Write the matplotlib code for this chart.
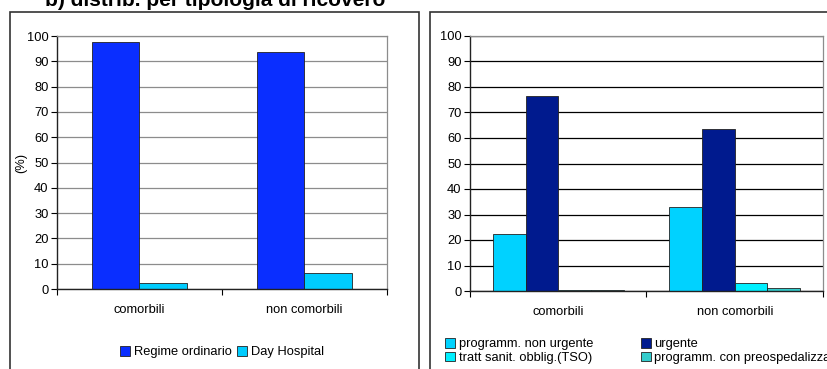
import matplotlib.pyplot as plt
import numpy as np
from matplotlib.patches import Rectangle

plt.rcParams['font.family'] = ['Liberation Sans', 'DejaVu Sans']

# data
categories = ["comorbili", "non comorbili"]

left_series = ["Regime ordinario", "Day Hospital"]
left_values = [[97.5, 93.5], [2.5, 6.5]]
left_colors = ["#0A2EFF", "#00CCFF"]

right_series = ["programm. non urgente", "urgente",
                "tratt sanit. obblig.(TSO)", "programm. con preospedalizzazione"]
right_values = [[22.5, 33.0], [76.5, 63.5], [0.4, 3.0], [0.4, 1.0]]
right_colors = ["#00D2FF", "#001A8E", "#00F0FF", "#33CCCC"]

yticks = list(range(0, 101, 10))

W, H = 828, 369
FS = 9.3
fig = plt.figure(figsize=(W / 100, H / 100), dpi=100)


def px_axes(x0, y0, x1, y1):
    return fig.add_axes([x0 / W, 1 - y1 / H, (x1 - x0) / W, (y1 - y0) / H])


# panel frames
fig.patches.append(Rectangle((10 / W, -0.1), (419 - 10) / W, 1.1 - 12 / H,
                             transform=fig.transFigure, fill=False,
                             edgecolor="#333333", linewidth=1.2))
fig.patches.append(Rectangle((430 / W, -0.1), 1.0, 1.1 - 12 / H,
                             transform=fig.transFigure, fill=False,
                             edgecolor="#333333", linewidth=1.2))

# title, cut at the top like the original
fig.text(45 / W, 1 - 6 / H, "b) distrib. per tipologia di ricovero",
         fontsize=15, fontweight="bold", va="baseline", ha="left")


def style_axes(ax, gridcolor, framecolor):
    ax.set_ylim(0, 100)
    ax.set_xlim(0, 2)
    ax.set_yticks(yticks)
    ax.set_xticks([0, 1, 2])
    ax.set_xticklabels([])
    ax.set_xticks([0.5, 1.5], minor=True)
    ax.set_xticklabels(categories, minor=True)
    ax.tick_params(axis="x", which="minor", length=0, pad=11, labelsize=FS)
    ax.tick_params(axis="x", which="major", length=4, direction="out")
    ax.tick_params(axis="y", length=4, direction="out", labelsize=FS, pad=2)
    ax.yaxis.grid(True, color=gridcolor, linewidth=0.9)
    ax.set_axisbelow(True)
    for s in ["top", "right"]:
        ax.spines[s].set_color(framecolor)
        ax.spines[s].set_linewidth(0.9)
    for s in ["left", "bottom"]:
        ax.spines[s].set_color("#222222")
        ax.spines[s].set_linewidth(1.0)


# left chart
ax1 = px_axes(57, 36, 387, 289)
style_axes(ax1, "#8c8c8c", "#8c8c8c")
w1 = 0.285
x = np.arange(len(categories)) + 0.5
for i, (name, vals, col) in enumerate(zip(left_series, left_values, left_colors)):
    ax1.bar(x + (i - 0.5) * w1, vals, width=w1, color=col,
            edgecolor="#222222", linewidth=0.6, label=name)
ax1.set_ylabel("(%)", fontsize=FS, labelpad=0)
ax1.legend(loc="center", bbox_to_anchor=(0.5, -0.25), ncol=2, frameon=False,
           fontsize=FS, handlelength=0.75, handleheight=0.75, handletextpad=0.3,
           columnspacing=0.4, borderaxespad=0)

# right chart
ax2 = px_axes(470, 36, 823, 291)
style_axes(ax2, "#000000", "#8c8c8c")
w2 = 0.185
for i, (name, vals, col) in enumerate(zip(right_series, right_values, right_colors)):
    ax2.bar(x + (i - 1.5) * w2, vals, width=w2, color=col,
            edgecolor="#222222", linewidth=0.6, label=name)
# row-wise legend order
h, l = ax2.get_legend_handles_labels()
order = [0, 2, 1, 3]
ax2.legend([h[k] for k in order], [l[k] for k in order],
           loc="upper left", bbox_to_anchor=(-0.085, -0.165), ncol=2, frameon=False,
           fontsize=FS, handlelength=0.75, handleheight=0.75, handletextpad=0.3,
           columnspacing=3.7, labelspacing=0.1, borderaxespad=0)

fig.savefig("out.png", dpi=100)
